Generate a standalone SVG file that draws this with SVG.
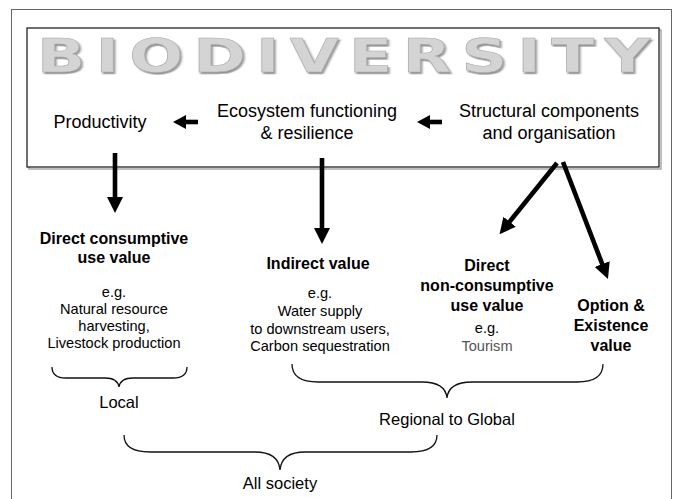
<svg xmlns="http://www.w3.org/2000/svg" width="680" height="499" viewBox="0 0 680 499">
<style>
  text { font-family: "Liberation Sans", Arial, sans-serif; fill: #000; text-anchor: middle; }
  .top { font-size: 18px; }
  .h { font-size: 16px; font-weight: bold; }
  .s { font-size: 14.6px; }
  .lbl { font-size: 16.5px; }
  .brace { fill: none; stroke: #111; stroke-width: 1.3; }
  .arr { stroke: #000; stroke-width: 4.6; fill: none; }
  .title { font-family: "DejaVu Sans", Verdana, sans-serif; font-weight: bold; font-size: 47px; text-anchor: start; fill: url(#metal); stroke: #a8a8a8; stroke-width: 0.5; }
</style>
<defs>
  <linearGradient id="metal" gradientUnits="userSpaceOnUse" x1="0" y1="38" x2="0" y2="73">
    <stop offset="0" stop-color="#d4d4d4"/>
    <stop offset="0.3" stop-color="#fbfbfb"/>
    <stop offset="0.6" stop-color="#dedede"/>
    <stop offset="1" stop-color="#a2a2a2"/>
  </linearGradient>
  <filter id="shadow" x="-5%" y="-20%" width="110%" height="150%">
    <feDropShadow dx="1.2" dy="1.8" stdDeviation="0.7" flood-color="#666" flood-opacity="0.7"/>
  </filter>
  <marker id="head" viewBox="0 0 16 16" markerWidth="16" markerHeight="16" markerUnits="userSpaceOnUse" refX="0.5" refY="8" orient="auto">
    <path d="M0,0 L16,8 L0,16 Z" fill="#000"/>
  </marker>
  <marker id="headS" viewBox="0 0 13 14" markerWidth="13" markerHeight="14" markerUnits="userSpaceOnUse" refX="0.5" refY="7" orient="auto">
    <path d="M0,0 L13,7 L0,14 Z" fill="#000"/>
  </marker>
</defs>
<rect x="0" y="0" width="680" height="499" fill="#fff"/>
<rect id="frame" x="11.5" y="9.5" width="660" height="500" fill="none" stroke="#666" stroke-width="1"/>

<g id="biodiversity">
  <rect x="29" y="30" width="632" height="139" fill="none" stroke="#aaa" stroke-width="1.5"/>
  <rect x="27" y="28" width="632" height="139" fill="#fff" stroke="#222" stroke-width="1.3"/>
  <text class="title" transform="translate(37,72) scale(1.35,1)" x="0" y="0" letter-spacing="7.5" filter="url(#shadow)">BIODIVERSITY</text>
</g>

<g id="productivity">
  <text class="top" x="100" y="128">Productivity</text>
</g>
<g id="ecosystem">
  <text class="top" x="307" y="117">Ecosystem functioning</text>
  <text class="top" x="307" y="139">&amp; resilience</text>
</g>
<g id="structural">
  <text class="top" x="549" y="117">Structural components</text>
  <text class="top" x="549" y="139">and organisation</text>
</g>

<g id="connectors">
  <line class="arr" x1="198" y1="122" x2="185.5" y2="122" marker-end="url(#headS)"/>
  <line class="arr" x1="442" y1="122" x2="429.5" y2="122" marker-end="url(#headS)"/>
  <line class="arr" x1="115" y1="153" x2="115" y2="197.5" marker-end="url(#head)"/>
  <line class="arr" x1="322" y1="158" x2="322" y2="228.5" marker-end="url(#head)"/>
  <line class="arr" x1="557" y1="163" x2="509.3" y2="222.1" marker-end="url(#head)"/>
  <line class="arr" x1="563" y1="162" x2="602.4" y2="264.5" marker-end="url(#head)"/>
</g>

<g id="direct-consumptive">
  <text class="h" x="114" y="244">Direct consumptive</text>
  <text class="h" x="114" y="263">use value</text>
  <text class="s" x="114" y="297">e.g.</text>
  <text class="s" x="114" y="314">Natural resource</text>
  <text class="s" x="114" y="331">harvesting,</text>
  <text class="s" x="114" y="348">Livestock production</text>
</g>
<g id="indirect">
  <text class="h" x="318" y="269">Indirect value</text>
  <text class="s" x="320" y="298">e.g.</text>
  <text class="s" x="320" y="316">Water supply</text>
  <text class="s" x="320" y="334">to downstream users,</text>
  <text class="s" x="320" y="351">Carbon sequestration</text>
</g>
<g id="direct-nonconsumptive">
  <text class="h" x="487" y="271">Direct</text>
  <text class="h" x="487" y="291">non-consumptive</text>
  <text class="h" x="487" y="311">use value</text>
  <text class="s" x="487" y="333">e.g.</text>
  <text class="s" x="487" y="351" style="fill:#555">Tourism</text>
</g>
<g id="option-existence">
  <text class="h" x="611" y="311">Option &amp;</text>
  <text class="h" x="611" y="331">Existence</text>
  <text class="h" x="611" y="351">value</text>
</g>

<g id="local">
  <path class="brace" d="M52,367 C52,374 56,378 66,378 L105,378 C113,378 118,381 119,387 C120,381 125,378 133,378 L173,378 C183,378 187,374 187,367"/>
  <text class="lbl" x="119" y="408">Local</text>
</g>
<g id="regional">
  <path class="brace" d="M292,364 C292,375 300,382 318,382 L422,382 C438,382 446,388 447,398 C448,388 456,382 472,382 L577,382 C595,382 603,375 603,364"/>
  <text class="lbl" x="447" y="425">Regional to Global</text>
</g>
<g id="all-society">
  <path class="brace" d="M124,435 C124,446 132,452 150,452 L255,452 C271,452 279,459 280,470 C281,459 289,452 305,452 L411,452 C429,452 437,446 437,435"/>
  <text class="lbl" x="280" y="489">All society</text>
</g>
</svg>
